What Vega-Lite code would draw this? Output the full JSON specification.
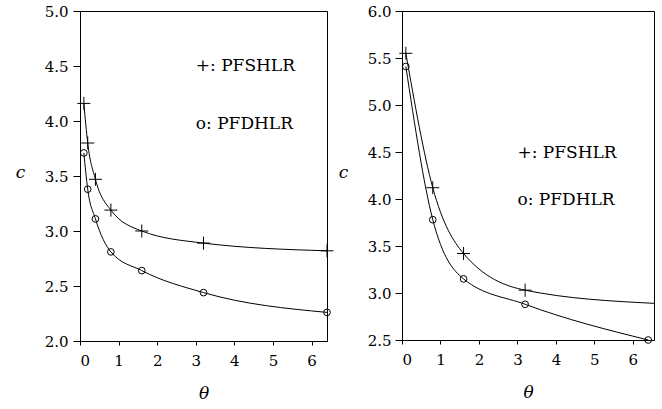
{
  "$schema": "https://vega.github.io/schema/vega-lite/v6.json",
  "padding": {"left": 14, "top": 3, "right": 0, "bottom": 0},
  "background": "white",
  "bounds": "flush",
  "spacing": 75,
  "config": {
    "view": {"stroke": "black", "strokeWidth": 1},
    "font": "DejaVu Serif",
    "axis": {
      "grid": false,
      "domainColor": "black",
      "tickColor": "black",
      "labelColor": "black",
      "titleColor": "black",
      "labelFont": "DejaVu Serif",
      "titleFont": "DejaVu Serif",
      "labelFontSize": 15,
      "titleFontSize": 17,
      "titleFontWeight": "normal",
      "titleFontStyle": "italic",
      "domainWidth": 1,
      "tickWidth": 1
    }
  },
  "datasets": {
    "left": [
      {"series": "PFSHLR", "theta": 0.1, "c": 4.16},
      {"series": "PFSHLR", "theta": 0.2, "c": 3.80},
      {"series": "PFSHLR", "theta": 0.4, "c": 3.47},
      {"series": "PFSHLR", "theta": 0.8, "c": 3.19},
      {"series": "PFSHLR", "theta": 1.6, "c": 3.00},
      {"series": "PFSHLR", "theta": 3.2, "c": 2.89},
      {"series": "PFSHLR", "theta": 6.4, "c": 2.82},
      {"series": "PFDHLR", "theta": 0.1, "c": 3.71},
      {"series": "PFDHLR", "theta": 0.2, "c": 3.38},
      {"series": "PFDHLR", "theta": 0.4, "c": 3.11},
      {"series": "PFDHLR", "theta": 0.8, "c": 2.81},
      {"series": "PFDHLR", "theta": 1.6, "c": 2.64},
      {"series": "PFDHLR", "theta": 3.2, "c": 2.44},
      {"series": "PFDHLR", "theta": 6.4, "c": 2.26}
    ],
    "right": [
      {"series": "PFSHLR", "theta": 0.1, "c": 5.55},
      {"series": "PFSHLR", "theta": 0.8, "c": 4.12},
      {"series": "PFSHLR", "theta": 1.6, "c": 3.42},
      {"series": "PFSHLR", "theta": 3.2, "c": 3.03},
      {"series": "PFSHLR", "theta": 6.55, "c": 2.89},
      {"series": "PFDHLR", "theta": 0.1, "c": 5.41},
      {"series": "PFDHLR", "theta": 0.8, "c": 3.78},
      {"series": "PFDHLR", "theta": 1.6, "c": 3.15},
      {"series": "PFDHLR", "theta": 3.2, "c": 2.88},
      {"series": "PFDHLR", "theta": 6.4, "c": 2.50}
    ],
    "leftLabels": [
      {"theta": 3.0, "c": 4.5, "label": "+: PFSHLR"},
      {"theta": 3.0, "c": 3.97, "label": "o: PFDHLR"}
    ],
    "rightLabels": [
      {"theta": 3.0, "c": 4.49, "label": "+: PFSHLR"},
      {"theta": 3.0, "c": 3.99, "label": "o: PFDHLR"}
    ]
  },
  "hconcat": [
    {
      "width": 247,
      "height": 330,
      "encoding": {
        "x": {"field": "theta", "type": "quantitative", "scale": {"domain": [0, 6.4], "nice": false, "zero": false},
          "axis": {"title": "θ", "values": [0,1,2,3,4,5,6], "format": "d", "tickSize": 4, "labelPadding": 8, "titleY": 57, "titleBaseline": "alphabetic"}},
        "y": {"field": "c", "type": "quantitative", "scale": {"domain": [2, 5], "nice": false, "zero": false},
          "axis": {"title": "c", "values": [2,2.5,3,3.5,4,4.5,5], "format": ".1f", "tickSize": 7, "labelPadding": 5, "titleAngle": 0, "titleX": -60, "titleY": 166, "titleAlign": "center", "titleBaseline": "alphabetic"}}
      },
      "layer": [
        {"data": {"name": "left"}, "mark": {"type": "line", "interpolate": "monotone", "color": "black", "strokeWidth": 1},
          "encoding": {"detail": {"field": "series"}}},
        {"data": {"name": "left"}, "transform": [{"filter": "datum.series == 'PFSHLR'"}],
          "mark": {"type": "point", "shape": "M-1,0L1,0M0,-1L0,1", "size": 169, "filled": false, "color": "black", "strokeWidth": 1, "opacity": 1}},
        {"data": {"name": "left"}, "transform": [{"filter": "datum.series == 'PFDHLR'"}],
          "mark": {"type": "point", "shape": "circle", "size": 45, "filled": false, "color": "black", "strokeWidth": 1, "opacity": 1}},
        {"data": {"name": "leftLabels"}, "mark": {"type": "text", "align": "left", "baseline": "middle", "font": "DejaVu Serif", "fontSize": 17, "color": "black"},
          "encoding": {"text": {"field": "label"}}}
      ]
    },
    {
      "width": 252,
      "height": 329,
      "encoding": {
        "x": {"field": "theta", "type": "quantitative", "scale": {"domain": [0, 6.55], "nice": false, "zero": false},
          "axis": {"title": "θ", "values": [0,1,2,3,4,5,6], "format": "d", "tickSize": 4, "labelPadding": 8, "titleY": 57, "titleBaseline": "alphabetic"}},
        "y": {"field": "c", "type": "quantitative", "scale": {"domain": [2.5, 6], "nice": false, "zero": false},
          "axis": {"title": "c", "values": [2.5,3,3.5,4,4.5,5,5.5,6], "format": ".1f", "tickSize": 7, "labelPadding": 4, "titleAngle": 0, "titleX": -59, "titleY": 166, "titleAlign": "center", "titleBaseline": "alphabetic"}}
      },
      "layer": [
        {"data": {"name": "right"}, "mark": {"type": "line", "interpolate": "monotone", "color": "black", "strokeWidth": 1},
          "encoding": {"detail": {"field": "series"}}},
        {"data": {"name": "right"}, "transform": [{"filter": "datum.series == 'PFSHLR' && datum.theta < 6"}],
          "mark": {"type": "point", "shape": "M-1,0L1,0M0,-1L0,1", "size": 169, "filled": false, "color": "black", "strokeWidth": 1, "opacity": 1}},
        {"data": {"name": "right"}, "transform": [{"filter": "datum.series == 'PFDHLR'"}],
          "mark": {"type": "point", "shape": "circle", "size": 45, "filled": false, "color": "black", "strokeWidth": 1, "opacity": 1}},
        {"data": {"name": "rightLabels"}, "mark": {"type": "text", "align": "left", "baseline": "middle", "font": "DejaVu Serif", "fontSize": 17, "color": "black"},
          "encoding": {"text": {"field": "label"}}}
      ]
    }
  ]
}
